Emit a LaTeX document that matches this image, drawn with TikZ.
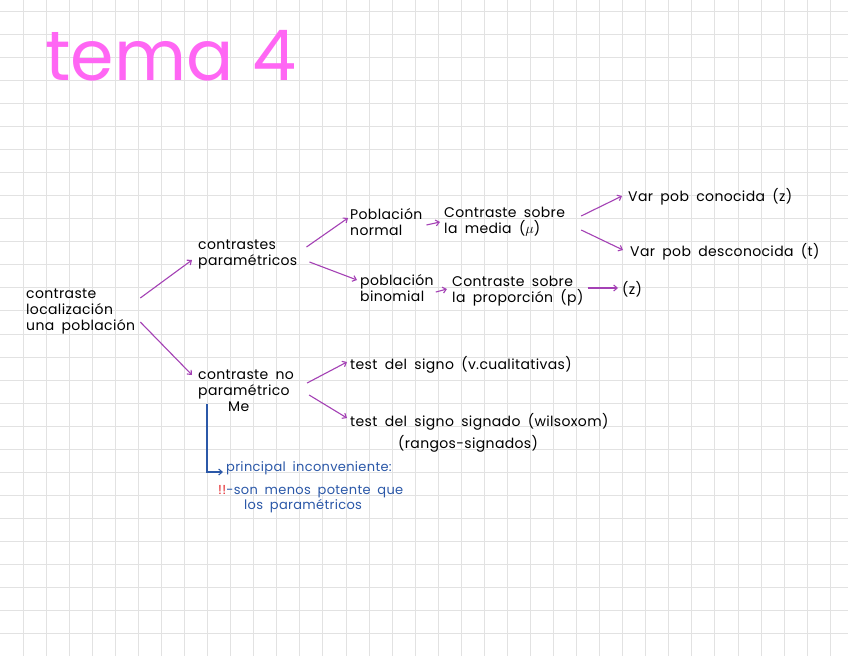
\documentclass[tikz,border=0pt]{standalone}
\usepackage{fontspec}
\setmainfont{Poppins}[LetterSpace=2.5,WordSpace=1.8]
\newfontfamily\titlefont{Poppins}
\usetikzlibrary{arrows.meta,calc}
\definecolor{gridgray}{HTML}{E2E2E2}
\definecolor{titlepink}{HTML}{FF66F4}
\definecolor{arrpurple}{HTML}{A441B5}
\definecolor{noteblue}{HTML}{2B58A8}
\definecolor{alertred}{HTML}{E3262A}
\tikzset{
  >={Straight Barb[length=3.5pt,width=6pt]},
  arr/.style={->,draw=arrpurple,line width=1.1pt},
  barr/.style={->,draw=noteblue,line width=1.1pt},
}

\begin{document}
\begin{tikzpicture}[x=1pt,y=-1pt,
  txt/.style={anchor=west,inner sep=0pt,align=left,font=\fontsize{14}{16}\selectfont},
  note/.style={txt,text=noteblue,font=\fontsize{13}{15}\selectfont},
]
  \fill[white] (0,0) rectangle (848,656);
  \useasboundingbox (0,0) rectangle (848,656);

  % grid paper
  \foreach \i in {0,...,35}
    \draw[gridgray,line width=1pt] ({round(22.7+23.06*\i)+0.5},0) -- ({round(22.7+23.06*\i)+0.5},656);
  \foreach \j in {0,...,27}
    \draw[gridgray,line width=1pt] (0,{round(10.7+23.06*\j)+0.5}) -- (848,{round(10.7+23.06*\j)+0.5});

  % title
  \node[anchor=base west,inner sep=0pt,text=titlepink,
    font=\titlefont\fontsize{70}{70}\selectfont] (title) at (45,80) {tema 4};

  % root and first split
  \node[txt] (root) at (26,312) {contraste\\localización\\una población};
  \node[txt] (par) at (198,255) {contrastes\\paramétricos};
  \node[txt] (nopar) at (198,391) {contraste no\\paramétrico\\\hspace*{30pt}Me};

  % parametric branch
  \node[txt] (normal) at (350,222) {Población\\normal};
  \node[txt] (media) at (444,222) {Contraste sobre\\la media ($\mu$)};
  \node[txt] (conocida) at (628,197) {Var pob conocida (z)};
  \node[txt] (desconocida) at (630,252) {Var pob desconocida (t)};
  \node[txt] (binomial) at (360,288) {población\\binomial};
  \node[txt] (proporcion) at (452,291) {Contraste sobre\\la proporción (p)};
  \node[txt] (zprop) at (622,289) {(z)};

  % non-parametric branch
  \node[txt] (signo) at (350,365) {test del signo (v.cualitativas)};
  \node[txt] (signado) at (350,433) {test del signo signado (wilsoxom)\\[4pt]\hspace*{48pt}(rangos-signados)};
  \node[note] (inconv) at (226,468) {principal inconveniente:};
  \node[note] (menos) at (218,499) {{\color{alertred}!!}-son menos potente que\\\hspace*{26pt}los paramétricos};

  % connectors
  \draw[arr] ($(root.east)+(5,-14)$) -- ($(par.west)+(-6,5)$);
  \draw[arr] ($(root.east)+(5,10)$) -- ($(nopar.west)+(-6,-16)$);
  \draw[arr] ($(par.east)+(9,-8)$) -- ($(normal.west)+(-2,-4)$);
  \draw[arr] ($(par.east)+(12,7)$) -- ($(binomial.west)+(-3,-8)$);
  \draw[arr] ($(normal.east)+(4,3)$) -- ($(media.west)+(-4,0)$);
  \draw[arr] ($(media.east)+(16,-6)$) -- ($(conocida.west)+(-6,-1)$);
  \draw[arr] ($(media.east)+(16,8)$) -- ($(desconocida.west)+(-7,-2)$);
  \draw[arr] ($(binomial.east)+(2,4)$) -- ($(proporcion.west)+(-5,-2)$);
  \draw[arr] ($(proporcion.east)+(4,-3)$) -- ($(zprop.west)+(-4,-1)$);
  \draw[arr] ($(nopar.east)+(13,-8)$) -- ($(signo.west)+(-3,-3)$);
  \draw[arr] ($(nopar.east)+(15,4)$) -- ($(signado.west)+(-3,-15)$);
  \draw[barr] ($(nopar.south west)+(9,-8)$) |- ($(inconv.west)+(-3,4)$);
\end{tikzpicture}
\end{document}
